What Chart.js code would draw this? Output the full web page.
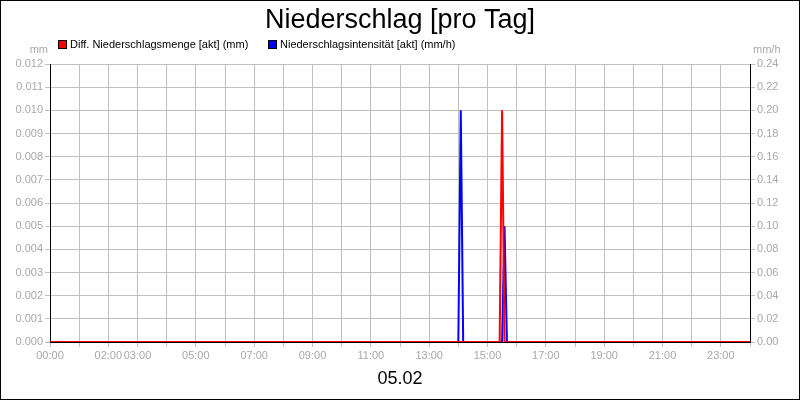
<!DOCTYPE html>
<html>
<head>
<meta charset="utf-8">
<script src="https://cdn.jsdelivr.net/npm/chart.js@4"></script>
<style>
  html, body { margin: 0; padding: 0; background: #fff; }
  #wrap { width: 800px; height: 400px; }
</style>
</head>
<body>
<div id="wrap"><canvas id="rainChart" width="800" height="400"></canvas></div>
<script>
// --- Daten (Stunden des Tages, 05.02) ---
const chartTitle = 'Niederschlag [pro Tag]';
const dayLabel = '05.02';
const xLabelHours = [0, 2, 3, 5, 7, 9, 11, 13, 15, 17, 19, 21, 23];
const xLabelTexts = ['00:00', '02:00', '03:00', '05:00', '07:00', '09:00', '11:00', '13:00', '15:00', '17:00', '19:00', '21:00', '23:00'];

const mengeLabel = 'Diff. Niederschlagsmenge [akt] (mm)';
const mengeHours = [0, 15.4167, 15.5, 15.5833, 24];
const mengeValues = [0, 0, 0.010, 0, 0];

const intensLabel = 'Niederschlagsintensität [akt] (mm/h)';
const intensHours = [0, 14.0, 14.0833, 14.1667, 15.5, 15.5833, 15.6667, 24];
const intensValues = [0, 0, 0.20, 0, 0, 0.10, 0, 0];

const FONT = '"Liberation Sans", Arial, sans-serif';
const GRAY = '#a8a8a8';
const GRID = '#c0c0c0';

const toPoints = (xs, ys) => xs.map((x, i) => ({ x: x, y: ys[i] }));

// --- Titel, Legende, Einheiten, Rahmen ---
const decorPlugin = {
    id: 'decor',
    beforeDraw(chart) {
        const ctx = chart.ctx;
        ctx.save();
        ctx.fillStyle = '#fff';
        ctx.fillRect(0, 0, chart.width, chart.height);
        ctx.restore();
    },
    afterDraw(chart) {
        const ctx = chart.ctx;
        ctx.save();
        // Rahmen
        ctx.strokeStyle = '#000';
        ctx.lineWidth = 1;
        ctx.strokeRect(0.5, 0.5, chart.width - 1, chart.height - 1);

        // Titel
        ctx.fillStyle = '#000';
        ctx.textAlign = 'center';
        ctx.textBaseline = 'alphabetic';
        ctx.font = '27px ' + FONT;
        ctx.fillText(chartTitle, 400, 28);

        // Legende
        ctx.font = '11px ' + FONT;
        ctx.textAlign = 'left';
        ctx.textBaseline = 'middle';
        const items = [
            { text: chart.data.datasets[0].label, color: chart.data.datasets[0].borderColor, x: 58 },
            { text: chart.data.datasets[1].label, color: chart.data.datasets[1].borderColor, x: 268 }
        ];
        items.forEach(it => {
            ctx.fillStyle = it.color;
            ctx.fillRect(it.x, 40, 8, 8);
            ctx.strokeStyle = '#000';
            ctx.strokeRect(it.x + 0.5, 40.5, 8, 8);
            ctx.fillStyle = '#000';
            ctx.fillText(it.text, it.x + 12, 45);
        });

        // Einheiten
        ctx.fillStyle = GRAY;
        ctx.textBaseline = 'alphabetic';
        ctx.textAlign = 'right';
        ctx.fillText('mm', 48, 53);
        ctx.textAlign = 'left';
        ctx.fillText('mm/h', 753, 53);

        // Datum
        ctx.fillStyle = '#000';
        ctx.textAlign = 'center';
        ctx.font = '18px ' + FONT;
        ctx.fillText(dayLabel, 400, 384);
        ctx.restore();
    }
};

const ctx = document.getElementById('rainChart').getContext('2d');
const rainChart = new Chart(ctx, {
    type: 'line',
    data: {
        datasets: [
            { label: mengeLabel, data: toPoints(mengeHours, mengeValues), borderColor: '#ff0000', backgroundColor: '#ff0000', borderWidth: 2, borderJoinStyle: 'bevel', pointRadius: 0, tension: 0, yAxisID: 'yMenge' },
            { label: intensLabel, data: toPoints(intensHours, intensValues), borderColor: '#0000ff', backgroundColor: '#0000ff', borderWidth: 2, borderJoinStyle: 'bevel', pointRadius: 0, tension: 0, yAxisID: 'yIntens' }
        ]
    },
    options: {
        responsive: false,
        animation: false,
        devicePixelRatio: 1,
        layout: { padding: { top: 64, left: 0, right: 0, bottom: 0 } },
        plugins: { legend: { display: false }, title: { display: false }, tooltip: { enabled: false } },
        scales: {
            x: {
                type: 'linear', min: 0, max: 24,
                afterFit: s => { s.height = 58; },
                border: { color: '#000', width: 1 },
                grid: { color: GRID, tickColor: GRID, tickLength: 5 },
                ticks: {
                    stepSize: 1, autoSkip: false, maxRotation: 0, padding: 2,
                    color: GRAY, font: { family: FONT, size: 11 },
                    callback: v => { const i = xLabelHours.indexOf(v); return i >= 0 ? xLabelTexts[i] : ''; }
                }
            },
            yMenge: {
                position: 'left', min: 0, max: 0.012,
                afterFit: s => { s.width = 50; },
                border: { color: '#000', width: 1 },
                grid: { color: GRID, tickColor: GRID, tickLength: 5 },
                ticks: { stepSize: 0.001, padding: 2, color: GRAY, font: { family: FONT, size: 11 }, callback: v => v.toFixed(3) }
            },
            yIntens: {
                position: 'right', min: 0, max: 0.24,
                afterFit: s => { s.width = 50; },
                border: { color: '#000', width: 1 },
                grid: { drawOnChartArea: false, tickColor: GRID, tickLength: 5 },
                ticks: { stepSize: 0.02, padding: 2, color: GRAY, font: { family: FONT, size: 11 }, callback: v => v.toFixed(2) }
            }
        }
    },
    plugins: [decorPlugin]
});
</script>
</body>
</html>
